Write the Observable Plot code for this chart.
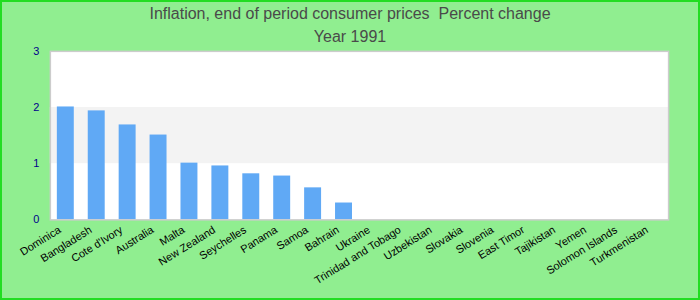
<!DOCTYPE html>
<html>
<head>
<meta charset="utf-8">
<script src="https://cdn.jsdelivr.net/npm/d3@7"></script>
<script src="https://cdn.jsdelivr.net/npm/@observablehq/plot@0.6"></script>
<style>
  html, body { margin: 0; padding: 0; }
  #wrap {
    position: relative; width: 700px; height: 300px; box-sizing: border-box;
    background: #90ee90; border: 2px solid #22dd22; overflow: hidden;
    font-family: "Liberation Sans", Arial, sans-serif;
  }
  .title { position: absolute; left: 0; width: 696px; text-align: center; color: #4a4a4a; font-size: 16px; }
  #chart { position: absolute; left: -2px; top: -2px; }
</style>
</head>
<body>
<div id="wrap">
  <div class="title" style="top:3px">Inflation, end of period consumer prices&nbsp; Percent change</div>
  <div class="title" style="top:26px">Year 1991</div>
  <div id="chart"></div>
</div>
<script>
const countries = ["Dominica","Bangladesh","Cote d'Ivory","Australia","Malta","New Zealand","Seychelles","Panama","Samoa","Bahrain","Ukraine","Trinidad and Tobago","Uzbekistan","Slovakia","Slovenia","East Timor","Tajikistan","Yemen","Solomon Islands","Turkmenistan"];
const values = [2.01,1.94,1.69,1.51,1.01,0.96,0.82,0.78,0.57,0.30,0,0,0,0,0,0,0,0,0,0];
const yTicks = [0,1,2,3];
const bands = [{y1:1, y2:2}];

const data = countries.map((c,i) => ({country:c, value:values[i]}));

const chart = Plot.plot({
  width: 700, height: 300,
  marginTop: 51, marginBottom: 80, marginLeft: 50, marginRight: 30,
  style: {background: "transparent", fontFamily: "Liberation Sans, Arial, sans-serif", overflow: "visible"},
  x: {domain: countries, paddingInner: 0.45, paddingOuter: 0.225, label: null},
  y: {domain: [0,3], ticks: yTicks, label: null},
  marks: [
    Plot.frame({fill: "white", stroke: null}),
    Plot.rect(bands, {y1: "y1", y2: "y2", fill: "#f3f3f3"}),
    Plot.barY(data, {x: "country", y: "value", fill: "#60a9f5"}),
    Plot.frame({stroke: "#cccccc", strokeWidth: 1.5}),
    Plot.axisY({ticks: yTicks, tickFormat: d3.format("d"), tickSize: 0, tickPadding: 11, fill: "#00008b", fontSize: 11, label: null}),
    Plot.axisX({tickSize: 0, tickRotate: -32, tickPadding: 9, dx: -6, fill: "black", fontSize: 11, label: null})
  ]
});
document.getElementById("chart").appendChild(chart);
</script>
</body>
</html>
